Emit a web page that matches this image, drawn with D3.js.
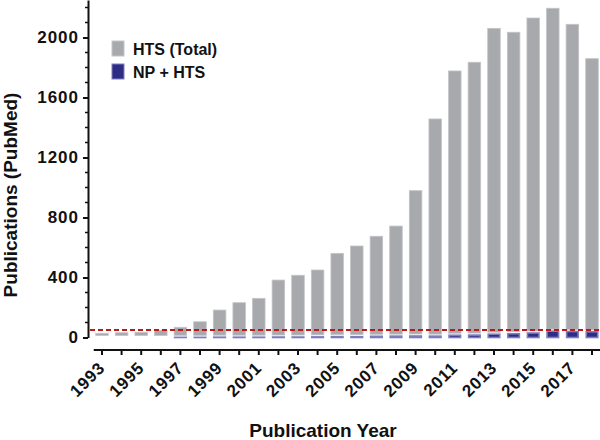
<!DOCTYPE html>
<html>
<head>
<meta charset="utf-8">
<script src="https://cdn.jsdelivr.net/npm/d3@7"></script>
<style>
  body { margin: 0; background: #fff; }
  svg text { font-family: "Liberation Sans", Arial, sans-serif; font-weight: bold; fill: #111; }
</style>
</head>
<body>
<svg id="chart" width="600" height="440"></svg>
<script>
// HTS publications per year, with the natural-product subset

const years = d3.range(1993, 2019);
const htsTotal = [28, 32, 35, 48, 68, 105, 183, 232, 261, 383, 415, 450, 561,
  610, 675, 743, 979, 1457, 1777, 1835, 2061, 2035, 2130, 2195, 2088, 1859];
const npHts = [0, 0, 0, 0, 1, 1, 2, 2, 2, 3, 3, 4, 6,
  5, 8, 9, 10, 9, 15, 16, 22, 25, 30, 42, 40, 38];
const yMajor = [0, 400, 800, 1200, 1600, 2000];
const yMinor = d3.range(100, 2300, 100).filter(v => v % 400 !== 0);
const refLine = 50;
const legendItems = [
  { label: "HTS (Total)", color: "#a8a9ad" },
  { label: "NP + HTS", color: "#2e2d86" }
];

const svg = d3.select("#chart");

const x = d3.scaleBand()
  .domain(years)
  .range([92.2, 92.2 + years.length * 19.6])
  .paddingInner(0.36)
  .paddingOuter(0.18);

const y = d3.scaleLinear()
  .domain([0, 2250])
  .range([337.5, 0]);

// bars: grey total on top, blue NP+HTS at the base
const bars = svg.append("g");
years.forEach((yr, i) => {
  const top = y(htsTotal[i]);
  const npTop = y(npHts[i]);
  bars.append("rect")
    .attr("x", x(yr)).attr("y", top)
    .attr("width", x.bandwidth())
    .attr("height", Math.max(0, npTop - 2 - top))
    .attr("fill", "#a8a9ad")
    .attr("stroke", "#c4c5c8").attr("stroke-width", 0.8);
  bars.append("rect")
    .attr("x", x(yr) + 0.5).attr("y", npTop)
    .attr("width", x.bandwidth() - 1)
    .attr("height", y(0) - npTop)
    .attr("fill", "#2e2d86")
    .attr("stroke", "#7f7ebd").attr("stroke-width", 1.6);
});

// dashed reference line
svg.append("line")
  .attr("x1", 90).attr("x2", 600)
  .attr("y1", y(refLine)).attr("y2", y(refLine))
  .attr("stroke", "#b8181e")
  .attr("stroke-width", 2)
  .attr("stroke-dasharray", "5 3");

// y axis
const yAxis = svg.append("g")
  .attr("transform", "translate(88,0)")
  .call(d3.axisLeft(y).tickValues(yMajor).tickFormat(d3.format("d"))
    .tickSize(5).tickPadding(4).tickSizeOuter(0));
yAxis.select(".domain").attr("stroke-width", 2).attr("stroke", "#111");
yAxis.selectAll(".tick line").attr("stroke-width", 2).attr("stroke", "#111");
yAxis.selectAll(".tick text")
  .attr("font-size", 17).attr("letter-spacing", 1)
  .attr("font-family", "Liberation Sans, Arial, sans-serif")
  .attr("font-weight", "bold");

yAxis.selectAll(".minor")
  .data(yMinor)
  .join("line")
  .attr("class", "minor")
  .attr("x1", -3).attr("x2", 0)
  .attr("y1", d => y(d)).attr("y2", d => y(d))
  .attr("stroke", "#111").attr("stroke-width", 1.5);

// x axis (offset below the bars)
const xAxis = svg.append("g")
  .attr("transform", "translate(0,350)")
  .call(d3.axisBottom(x).tickSize(5).tickSizeOuter(0)
    .tickFormat(d => (d % 2 === 1 ? d : "")));
xAxis.select(".domain").remove();
xAxis.append("line")
  .attr("x1", x(1993) - 2).attr("x2", 600)
  .attr("stroke", "#111").attr("stroke-width", 2);
xAxis.selectAll(".tick line").attr("stroke-width", 2).attr("stroke", "#111");
xAxis.selectAll(".tick text")
  .attr("font-size", 17).attr("letter-spacing", 0.8)
  .attr("font-family", "Liberation Sans, Arial, sans-serif")
  .attr("font-weight", "bold")
  .attr("text-anchor", "end")
  .attr("x", 0).attr("y", 0).attr("dy", null)
  .attr("transform", "translate(4,19) rotate(-45)");

// axis titles
svg.append("text")
  .attr("x", 323).attr("y", 437)
  .attr("text-anchor", "middle")
  .attr("font-size", 19)
  .text("Publication Year");

svg.append("text")
  .attr("transform", "translate(17,195) rotate(-90)")
  .attr("text-anchor", "middle")
  .attr("font-size", 19)
  .text("Publications (PubMed)");

// legend
const legend = svg.append("g").attr("transform", "translate(112,41)");
legendItems.forEach((d, i) => {
  const g = legend.append("g").attr("transform", `translate(0,${i * 23})`);
  g.append("rect")
    .attr("width", 12).attr("height", 15)
    .attr("fill", d.color)
    .attr("stroke", i === 0 ? "#c4c5c8" : "#7f7ebd").attr("stroke-width", 1);
  g.append("text")
    .attr("x", 21).attr("y", 14)
    .attr("font-size", 16)
    .text(d.label);
});
</script>
</body>
</html>
